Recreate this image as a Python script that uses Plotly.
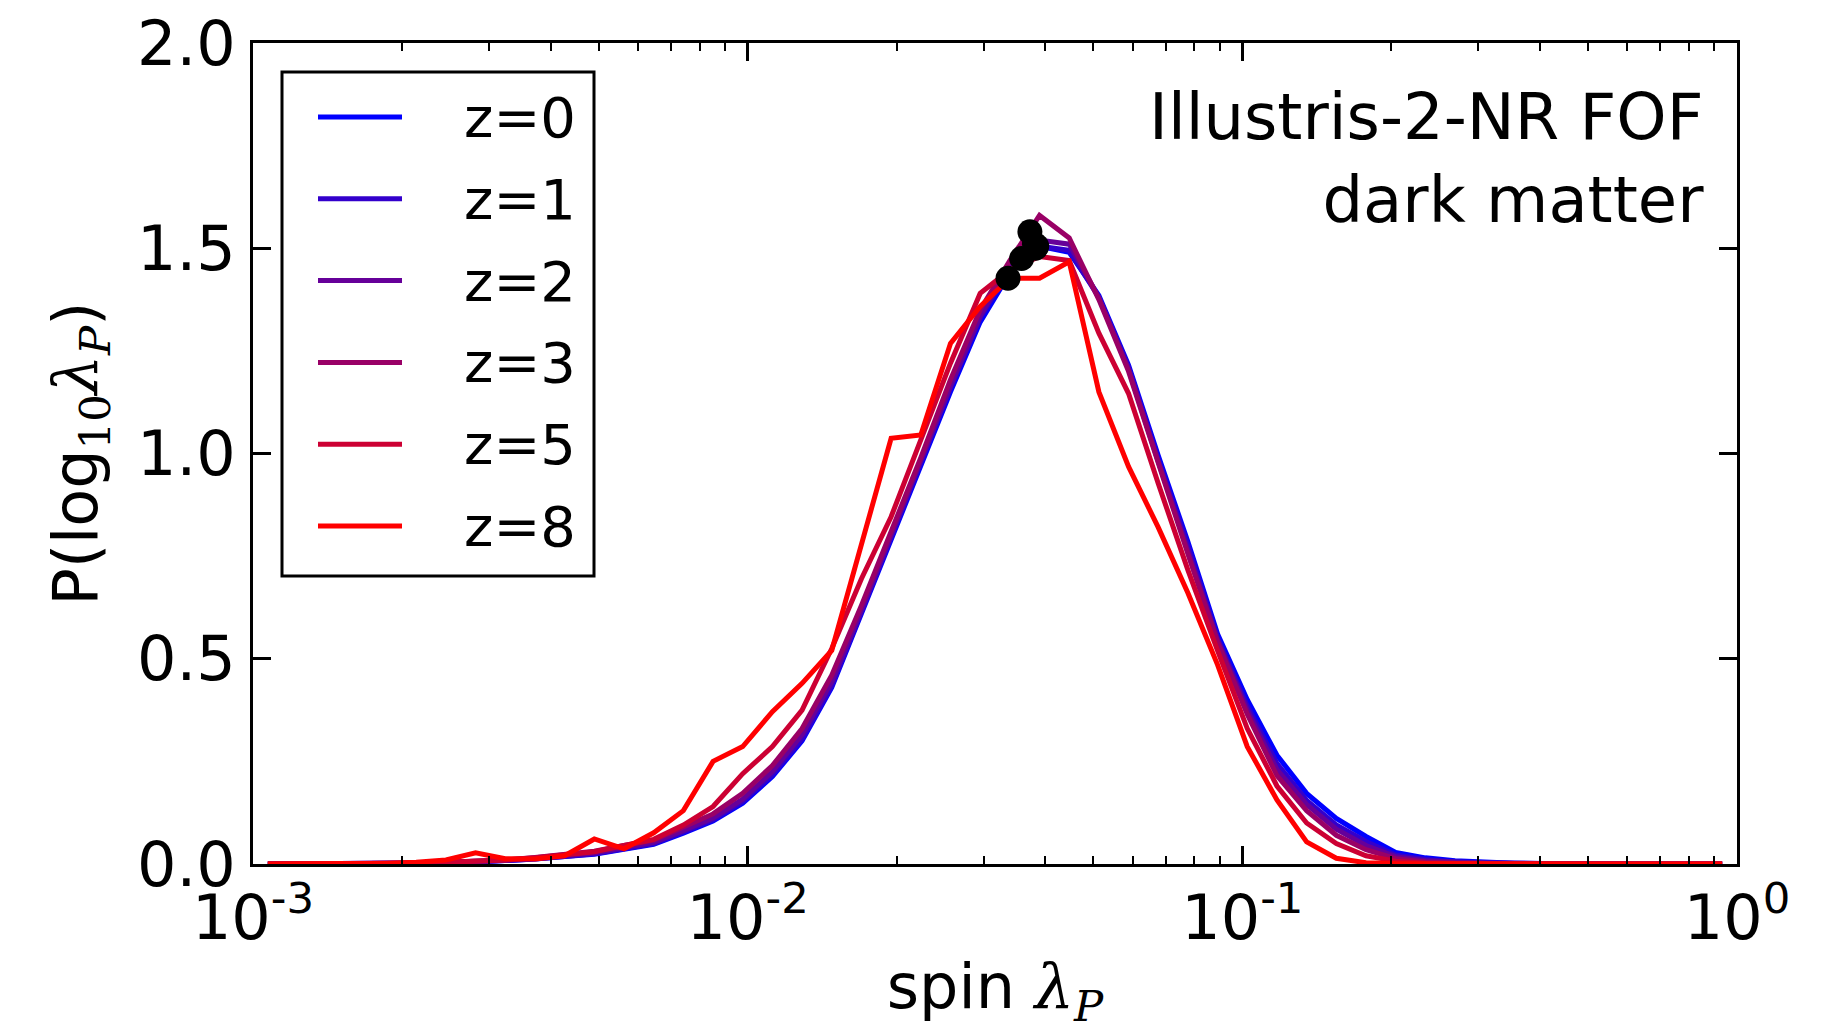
import plotly.graph_objects as go

# ---------------- data ----------------
# log10 of the spin-parameter bin centres
log_spin_bins = [-2.97, -2.91, -2.85, -2.79, -2.73, -2.67, -2.61, -2.55, -2.49, -2.43,
                 -2.37, -2.31, -2.25, -2.19, -2.13, -2.07, -2.01, -1.95, -1.89, -1.83,
                 -1.77, -1.71, -1.65, -1.59, -1.53, -1.47, -1.41, -1.35, -1.29, -1.23,
                 -1.17, -1.11, -1.05, -0.99, -0.93, -0.87, -0.81, -0.75, -0.69, -0.63,
                 -0.57, -0.51, -0.45, -0.39, -0.33, -0.27, -0.21, -0.15, -0.09, -0.03]

labels = ["z=0", "z=1", "z=2", "z=3", "z=5", "z=8"]
colors = ["rgb(0,0,255)", "rgb(51,0,204)", "rgb(102,0,153)",
          "rgb(153,0,102)", "rgb(204,0,51)", "rgb(255,0,0)"]

P_z0 = [0, 0, 0, 0, 0.001, 0.002, 0.003, 0.005, 0.008, 0.012,
        0.018, 0.024, 0.036, 0.048, 0.075, 0.105, 0.148, 0.213, 0.30, 0.43,
        0.61, 0.79, 0.97, 1.15, 1.32, 1.44, 1.505, 1.49, 1.385, 1.215,
        0.995, 0.785, 0.56, 0.40, 0.265, 0.172, 0.111, 0.067, 0.028, 0.015,
        0.008, 0.004, 0.002, 0.001, 0, 0, 0, 0, 0, 0]
P_z1 = [0, 0, 0, 0, 0.001, 0.002, 0.003, 0.005, 0.008, 0.012,
        0.018, 0.025, 0.037, 0.05, 0.078, 0.108, 0.152, 0.218, 0.305, 0.435,
        0.615, 0.795, 0.975, 1.16, 1.33, 1.45, 1.505, 1.495, 1.38, 1.21,
        0.985, 0.775, 0.55, 0.385, 0.245, 0.155, 0.095, 0.055, 0.022, 0.011,
        0.005, 0.003, 0.001, 0, 0, 0, 0, 0, 0, 0]
P_z2 = [0, 0, 0, 0, 0.001, 0.002, 0.004, 0.006, 0.009, 0.014,
        0.02, 0.027, 0.04, 0.053, 0.082, 0.112, 0.158, 0.225, 0.315, 0.445,
        0.62, 0.80, 0.98, 1.165, 1.335, 1.455, 1.52, 1.51, 1.38, 1.205,
        0.98, 0.765, 0.545, 0.375, 0.23, 0.145, 0.085, 0.045, 0.018, 0.008,
        0.004, 0.002, 0.001, 0, 0, 0, 0, 0, 0, 0]
P_z3 = [0, 0, 0, 0, 0.001, 0.002, 0.004, 0.006, 0.01, 0.016,
        0.023, 0.031, 0.045, 0.058, 0.09, 0.122, 0.172, 0.24, 0.33, 0.46,
        0.63, 0.81, 0.99, 1.18, 1.35, 1.47, 1.58, 1.525, 1.375, 1.2,
        0.975, 0.755, 0.54, 0.365, 0.215, 0.13, 0.07, 0.035, 0.013, 0.005,
        0.002, 0.001, 0, 0, 0, 0, 0, 0, 0, 0]
P_z5 = [0, 0, 0, 0, 0.001, 0.002, 0.004, 0.006, 0.01, 0.015,
        0.022, 0.03, 0.045, 0.06, 0.095, 0.14, 0.22, 0.286, 0.375, 0.525,
        0.695, 0.846, 1.033, 1.22, 1.39, 1.447, 1.48, 1.47, 1.293, 1.146,
        0.927, 0.716, 0.52, 0.33, 0.19, 0.10, 0.05, 0.02, 0.007, 0.002,
        0.001, 0, 0, 0, 0, 0, 0, 0, 0, 0]
P_z8 = [0, 0, 0, 0.001, 0.002, 0.004, 0.01, 0.027, 0.013, 0.012,
        0.02, 0.061, 0.037, 0.076, 0.13, 0.25, 0.286, 0.371, 0.44, 0.52,
        0.78, 1.037, 1.045, 1.268, 1.358, 1.427, 1.427, 1.467, 1.15, 0.968,
        0.82, 0.66, 0.485, 0.286, 0.156, 0.054, 0.014, 0.003, 0.001, 0,
        0, 0, 0, 0, 0, 0, 0, 0, 0, 0]
series = [P_z0, P_z1, P_z2, P_z3, P_z5, P_z8]

# median spin of each redshift, with the curve value there (black dots)
dot_spin = [0.0384, 0.0382, 0.0380, 0.0372, 0.0358, 0.0336]
dot_P = [1.505, 1.50, 1.51, 1.54, 1.475, 1.427]

x_tickvals = [1e-3, 1e-2, 1e-1, 1e0]
x_ticktext = ["10<sup>-3</sup>", "10<sup>-2</sup>", "10<sup>-1</sup>", "10<sup>0</sup>"]
x_minor = [m * 10.0 ** e for e in (-3, -2, -1) for m in range(2, 10)]
y_tickvals = [0.0, 0.5, 1.0, 1.5, 2.0]
y_ticktext = ["0.0", "0.5", "1.0", "1.5", "2.0"]

# ---------------- figure ----------------
spin = [10.0 ** v for v in log_spin_bins]
fig = go.Figure()
for lab, col, vals in zip(labels, colors, series):
    fig.add_trace(go.Scatter(x=spin, y=vals, mode="lines", name=lab,
                             line=dict(color=col, width=5), showlegend=False))
fig.add_trace(go.Scatter(x=dot_spin, y=dot_P, mode="markers", showlegend=False,
                         marker=dict(color="black", size=25, line=dict(width=0))))

FONT = "DejaVu Sans"
SERIF = "DejaVu Serif"
axis_common = dict(showline=True, linecolor="black", linewidth=3, mirror="ticks",
                   ticks="inside", tickcolor="black", tickwidth=2.5, ticklen=18,
                   showgrid=False, zeroline=False, automargin=False,
                   tickfont=dict(family=FONT, size=62, color="black"))

fig.update_layout(
    width=1825, height=1031,
    margin=dict(l=253, r=88, t=43, b=167),
    plot_bgcolor="white", paper_bgcolor="white",
    font=dict(family=FONT, size=62, color="black"),
    showlegend=False,
    xaxis=dict(type="log", range=[-3, 0], tickmode="array",
               tickvals=x_tickvals, ticktext=x_ticktext, ticklabelstandoff=-2,
               minor=dict(ticks="inside", ticklen=8, tickwidth=2, tickcolor="black",
                          tickmode="array", tickvals=x_minor, showgrid=False),
               title=dict(text=f"spin <span style=\"font-family:'{SERIF}'\"><i>λ</i><sub><i>P</i></sub></span>",
                          font=dict(family=FONT, size=62), standoff=30),
               **axis_common),
    yaxis=dict(range=[0, 2], tickmode="array", tickvals=y_tickvals, ticktext=y_ticktext,
               ticklabelstandoff=2,
               title=dict(text=f"P(log<span style=\"font-family:'{SERIF}'\"><sub>10</sub><i>λ</i><sub><i>P</i></sub></span>)",
                          font=dict(family=FONT, size=62), standoff=20),
               **axis_common),
)

# ---- legend box drawn in plot-paper coordinates ----
PW, PH = 1484.0, 821.0
def px_x(p):
    return (p - 253) / PW
def px_y(p):
    return (864 - p) / PH

fig.add_shape(type="rect", xref="paper", yref="paper",
              x0=px_x(282), x1=px_x(594), y0=px_y(576), y1=px_y(72),
              line=dict(color="black", width=3), fillcolor="white", layer="above")
for i, (lab, col) in enumerate(zip(labels, colors)):
    yc = 117 + 81.8 * i
    fig.add_shape(type="line", xref="paper", yref="paper",
                  x0=px_x(318), x1=px_x(402), y0=px_y(yc), y1=px_y(yc),
                  line=dict(color=col, width=5), layer="above")
    fig.add_annotation(xref="paper", yref="paper", x=px_x(462), y=px_y(yc + 0.5),
                       text=lab, showarrow=False, xanchor="left", yanchor="middle",
                       font=dict(family=FONT, size=56, color="black"))

fig.add_annotation(xref="paper", yref="paper", x=px_x(1706), y=px_y(78),
                   text="Illustris-2-NR FOF<br>dark matter", showarrow=False,
                   xanchor="right", yanchor="top", align="right",
                   font=dict(family=FONT, size=64, color="black"))

fig.write_html("out.html")
